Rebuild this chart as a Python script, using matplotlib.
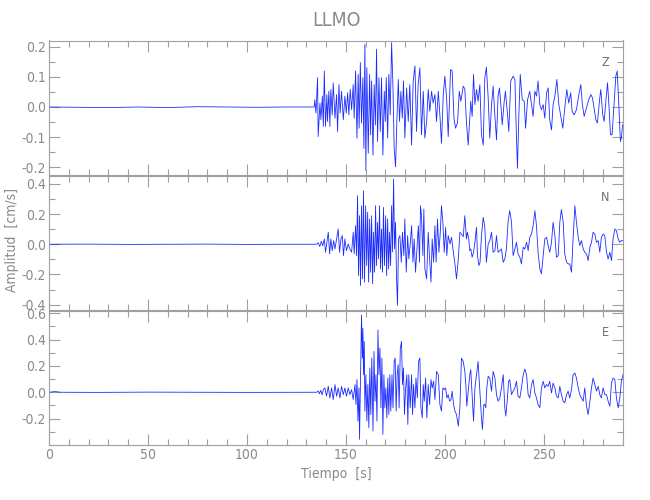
import numpy as np
import matplotlib
matplotlib.use("Agg")
import matplotlib.pyplot as plt
from matplotlib import font_manager
from matplotlib.ticker import MultipleLocator, FormatStrFormatter

# samples: (time [s], velocity [cm/s])
z_samples = [
    (0, 0.0), (15, -0.001), (30, -0.002), (45, 0.0), (60, -0.002), (75, 0.001),
    (90, 0.0), (105, -0.001), (120, 0.0), (134.0, 0.0),
    (134.3, 0.024), (134.9, -0.020), (135.7, 0.097), (136.0, -0.098), (136.9, 0.013),
    (137.4, -0.042), (138.1, 0.036), (138.6, -0.064), (139.1, 0.119), (139.7, -0.064),
    (140.4, 0.041), (140.7, -0.048), (141.4, 0.052), (141.9, -0.064), (142.4, 0.058),
    (143.1, -0.026), (143.6, 0.080), (144.5, -0.037), (145.3, 0.041), (145.8, -0.081),
    (146.5, 0.074), (147.1, -0.020), (147.8, 0.052), (148.7, -0.042), (149.5, 0.036),
    (150.2, -0.020), (150.9, 0.047), (151.5, -0.026), (152.2, 0.058), (152.9, -0.009),
    (153.7, 0.074), (154.2, -0.037), (154.9, 0.119), (155.6, -0.103), (156.2, 0.108),
    (156.7, -0.070), (157.3, 0.147), (157.9, -0.053), (158.6, 0.097), (159.1, -0.137),
    (159.6, 0.208), (160.1, -0.209), (160.6, 0.130), (161.3, -0.153), (162.0, 0.108),
    (162.5, -0.092), (163.0, 0.086), (163.7, -0.159), (164.3, 0.074), (164.9, -0.060),
    (165.5, 0.191), (166.0, -0.114), (166.7, 0.097), (167.4, -0.081), (168.0, 0.097),
    (168.7, -0.159), (169.4, 0.052), (169.9, -0.048), (170.4, 0.097), (171.1, -0.103),
    (171.7, 0.108), (172.4, -0.026), (173.1, 0.213), (173.8, 0.063), (174.4, -0.137),
    (175.1, -0.198), (175.8, -0.037), (176.5, 0.091), (177.1, -0.048), (177.8, 0.052),
    (178.5, -0.037), (179.1, 0.086), (179.8, -0.103), (180.7, 0.063), (181.5, -0.048),
    (182.3, 0.074), (183.2, -0.126), (184.0, 0.086), (184.9, 0.136), (185.7, -0.081),
    (186.5, 0.074), (187.4, 0.130), (188.2, -0.092), (189.1, 0.052), (189.9, -0.103),
    (190.8, -0.048), (191.6, 0.058), (192.4, -0.014), (193.3, 0.052), (194.1, 0.013),
    (195.0, 0.041), (195.8, -0.048), (196.7, 0.052), (197.5, -0.026), (198.3, -0.120),
    (199.2, 0.041), (200.0, 0.102), (200.9, 0.030), (201.7, -0.098), (202.9, 0.124),
    (203.7, 0.119), (204.6, -0.037), (205.4, -0.070), (206.4, -0.053), (207.3, 0.052),
    (208.1, 0.019), (209.3, 0.069), (210.1, 0.060),
    (210.9, -0.048), (211.8, -0.126), (213.1, 0.019), (213.8, -0.031), (214.5, 0.108),
    (215.2, 0.008), (216.0, 0.058), (216.8, 0.019), (217.7, 0.074), (218.5, -0.092),
    (219.4, -0.126), (220.2, 0.097), (221.0, 0.132), (221.9, 0.030), (222.7, -0.103),
    (223.6, 0.008), (224.4, 0.069), (225.3, -0.031), (226.1, -0.109), (226.9, 0.036),
    (227.6, 0.063), (228.3, 0.008), (229.0, -0.059), (230.0, 0.019), (230.6, 0.052),
    (231.7, -0.026), (232.3, -0.081), (233.3, 0.086), (234.5, 0.102), (235.4, 0.091),
    (236.2, -0.103), (236.7, -0.203), (237.4, -0.026), (238.1, 0.108), (239.1, 0.024),
    (240.1, 0.019), (240.8, -0.070), (241.8, 0.024), (242.9, 0.052), (243.8, 0.008),
    (244.6, -0.031), (245.5, 0.052), (246.3, 0.036), (247.1, 0.086), (248.0, 0.008),
    (248.8, -0.009), (249.7, 0.008), (250.5, -0.037), (251.4, 0.047), (252.2, 0.063),
    (253.0, -0.042), (253.9, -0.076), (254.7, 0.008), (255.6, 0.036), (256.6, 0.091),
    (257.6, 0.008), (258.6, -0.031), (259.6, -0.070), (260.6, -0.003), (261.6, 0.058),
    (262.6, 0.013), (263.6, 0.047), (264.3, -0.014), (265.3, -0.026), (266.5, -0.009),
    (267.7, 0.041), (268.7, 0.074), (269.5, 0.008), (270.4, -0.031), (271.6, -0.003),
    (272.7, 0.024), (273.8, 0.041), (274.6, 0.030), (275.4, -0.003), (276.3, -0.042),
    (277.1, -0.053), (278.1, 0.019), (278.8, 0.058), (279.8, -0.026), (280.5, -0.048),
    (281.5, 0.030), (282.2, 0.080), (282.8, 0.019), (283.7, -0.092), (284.5, -0.092),
    (285.5, 0.008), (286.4, 0.102), (287.1, 0.119), (287.9, 0.008), (288.7, -0.114),
    (289.2, -0.103), (289.8, -0.059),
]

n_samples = [
    (0, 0.0), (20, 0.001), (40, -0.001), (60, 0.0), (80, 0.001), (100, -0.001),
    (120, 0.0), (135.2, 0.0),
    (136.0, 0.010), (136.8, -0.015), (137.6, 0.020), (138.3, -0.010),
    (139.1, 0.035), (139.7, -0.053), (141.1, 0.079), (141.8, -0.064), (142.4, 0.035),
    (143.1, -0.042), (143.8, 0.024), (144.5, -0.031), (145.3, 0.035), (146.1, 0.101),
    (146.8, -0.053), (147.5, 0.035), (148.2, 0.057), (148.8, -0.075), (149.5, 0.035),
    (150.3, -0.042), (151.2, 0.002), (152.0, -0.031), (152.9, -0.053), (153.7, 0.079),
    (154.2, -0.064), (154.9, 0.123), (155.4, -0.075), (155.9, 0.321), (156.4, -0.207),
    (156.9, 0.189), (157.4, -0.273), (157.9, 0.255), (158.4, -0.229), (158.9, 0.354),
    (159.4, -0.251), (160.0, 0.255), (160.5, -0.141), (161.0, 0.211), (161.5, -0.251),
    (162.0, 0.167), (162.5, -0.185), (163.0, 0.189), (163.5, -0.262), (164.0, 0.079),
    (164.5, -0.185), (165.0, 0.255), (165.5, -0.141), (166.0, 0.145), (166.5, -0.097),
    (167.0, 0.255), (167.5, -0.163), (168.0, 0.101), (168.5, -0.185), (169.0, 0.244),
    (169.5, -0.141), (170.1, 0.189), (170.6, -0.207), (171.1, 0.167), (171.6, -0.163),
    (172.1, 0.079), (172.6, -0.141), (173.1, 0.255), (173.6, -0.050), (174.1, 0.431),
    (174.6, -0.031), (175.1, 0.145), (175.6, -0.229), (176.1, -0.404), (176.6, 0.035),
    (177.3, 0.057), (178.0, -0.119), (178.6, 0.079), (179.3, -0.075), (179.8, 0.167),
    (180.5, -0.185), (181.2, 0.057), (181.8, -0.097), (182.5, 0.002), (183.2, 0.123),
    (183.9, -0.119), (184.5, 0.035), (185.2, -0.185), (185.9, -0.031), (186.6, 0.123),
    (187.2, -0.119), (187.7, 0.255), (188.2, 0.189), (188.9, -0.075), (189.4, 0.233),
    (189.9, -0.163), (190.8, -0.229), (191.6, 0.079), (192.3, -0.097), (193.0, -0.251),
    (193.6, 0.035), (194.3, -0.119), (195.0, 0.123), (195.6, -0.119), (196.3, 0.167),
    (197.0, -0.053), (197.7, 0.079), (198.3, 0.255), (199.0, 0.145), (199.7, -0.053),
    (200.4, 0.112), (201.0, -0.075), (201.7, 0.057), (202.6, 0.002), (203.4, 0.046),
    (204.2, -0.042), (205.1, -0.130), (205.9, -0.229), (206.8, -0.097), (207.6, 0.079),
    (208.4, 0.068), (209.3, 0.050), (210.1, 0.189),
    (210.9, 0.035), (211.4, 0.079), (212.1, 0.035), (212.6, -0.042), (213.1, -0.031),
    (213.8, -0.086), (214.5, -0.053), (215.2, 0.013), (216.0, 0.112), (216.5, -0.075),
    (217.2, -0.141), (217.8, -0.119), (218.5, 0.057), (219.4, 0.178), (220.2, 0.112),
    (221.0, -0.119), (221.9, 0.002), (222.7, 0.024), (223.6, 0.079), (224.4, -0.053),
    (225.3, -0.042), (226.1, 0.057), (226.9, -0.053), (227.8, -0.042), (228.6, -0.031),
    (229.5, -0.119), (230.3, -0.097), (231.1, -0.031), (232.0, 0.156), (232.8, 0.222),
    (233.7, 0.145), (234.5, -0.075), (235.4, -0.031), (236.2, 0.013), (237.0, -0.064),
    (237.9, -0.086), (238.7, -0.130), (239.6, -0.020), (240.4, -0.031), (241.3, 0.013),
    (242.1, -0.042), (242.9, 0.046), (243.8, 0.068), (244.6, 0.123), (245.5, 0.222),
    (246.3, 0.123), (247.1, -0.053), (248.0, -0.163), (248.8, -0.196), (249.7, -0.075),
    (250.5, 0.035), (251.4, 0.046), (252.2, -0.009), (253.0, -0.053), (253.9, 0.013),
    (254.7, 0.145), (255.6, 0.057), (256.4, -0.086), (257.3, -0.075), (258.1, 0.145),
    (258.9, 0.229), (259.8, 0.145), (260.6, -0.064), (261.5, -0.119), (262.3, -0.130),
    (263.1, -0.130), (264.0, -0.185), (264.8, 0.035), (265.7, 0.255), (266.5, 0.145),
    (267.4, 0.046), (268.2, -0.009), (269.0, 0.024), (269.9, -0.031), (270.7, -0.053),
    (271.6, -0.064), (272.4, -0.108), (273.3, -0.020), (274.1, 0.013), (274.9, 0.079),
    (275.8, 0.068), (276.6, 0.013), (277.5, 0.024), (278.3, -0.053), (279.1, 0.046),
    (280.0, 0.068), (280.8, 0.057), (281.7, -0.053), (282.5, -0.097), (283.4, -0.053),
    (284.2, -0.108), (285.0, 0.035), (285.9, 0.101), (286.7, 0.090), (287.6, 0.035),
    (288.4, 0.013), (289.2, 0.024), (290.0, 0.024),
]

e_samples = [
    (0, 0.0), (3, 0.005), (6, 0.0), (25, -0.001), (50, 0.001), (75, 0.0),
    (100, -0.001), (120, 0.0), (135.2, 0.0),
    (136.0, 0.010), (136.6, -0.012), (137.3, 0.015), (138.0, -0.020), (138.6, 0.020),
    (139.4, 0.033), (140.2, -0.030), (141.1, 0.045), (141.9, -0.043), (142.8, 0.033),
    (143.6, -0.055), (144.5, 0.058), (145.3, -0.030), (146.1, 0.033), (147.0, -0.043),
    (147.8, 0.045), (148.7, -0.018), (149.5, 0.033), (150.3, -0.030), (151.2, 0.033),
    (152.0, -0.018), (152.9, 0.020), (153.7, -0.055), (154.6, 0.058), (155.1, -0.093),
    (155.6, 0.096), (156.1, -0.219), (156.6, 0.033), (156.9, -0.357), (157.4, 0.133),
    (157.9, 0.586), (158.3, 0.259), (158.6, 0.486), (158.9, 0.133), (159.3, 0.385),
    (159.6, -0.143), (160.1, 0.133), (160.6, -0.219), (161.1, 0.058), (161.6, -0.269),
    (162.1, 0.184), (162.6, -0.169), (163.1, 0.259), (163.7, -0.294), (164.2, 0.309),
    (164.7, -0.068), (165.2, 0.133), (165.7, -0.219), (166.2, 0.473), (166.7, 0.133),
    (167.2, 0.335), (167.7, -0.118), (168.2, 0.259), (168.7, -0.319), (169.2, 0.133),
    (169.7, -0.118), (170.2, 0.033), (170.7, -0.194), (171.2, 0.108), (171.7, -0.169),
    (172.2, 0.133), (172.7, -0.143), (173.3, 0.133), (173.8, -0.118), (174.4, 0.234),
    (174.9, 0.259), (175.4, -0.143), (175.9, 0.133), (176.4, 0.209), (176.9, -0.118),
    (177.5, 0.335), (178.1, 0.385), (178.6, 0.058), (179.1, 0.184), (179.6, -0.169),
    (180.2, 0.033), (180.8, 0.133), (181.3, -0.244), (181.8, 0.133), (182.5, -0.118),
    (183.2, 0.133), (183.7, -0.169), (184.2, 0.058), (184.9, -0.118), (185.4, 0.108),
    (186.1, -0.043), (186.7, 0.234), (187.4, 0.259), (187.9, -0.118), (188.6, -0.194),
    (189.1, 0.058), (189.6, -0.068), (190.3, 0.108), (190.9, -0.194), (191.6, 0.058),
    (192.3, -0.093), (193.0, 0.096), (193.6, 0.033), (194.3, 0.083), (195.0, -0.055),
    (195.8, 0.158), (196.7, 0.133), (197.5, -0.093), (198.3, -0.143), (199.0, 0.033),
    (199.7, 0.020), (200.4, 0.033), (201.0, -0.043), (201.7, -0.018), (202.4, -0.068),
    (203.1, -0.055), (203.7, 0.008), (204.4, -0.093), (205.1, -0.143), (205.9, -0.169),
    (206.8, -0.257), (207.6, -0.118), (208.4, 0.259), (209.3, 0.234), (210.1, 0.158),
    (210.6, 0.058), (211.1, -0.106), (211.8, 0.008), (212.6, 0.133), (213.1, 0.171),
    (213.8, -0.018), (214.5, -0.219), (215.2, 0.033), (216.0, 0.133), (216.8, 0.234),
    (217.7, 0.008), (218.5, -0.194), (219.0, -0.282), (219.7, -0.093), (220.2, -0.093),
    (220.7, -0.118), (221.2, 0.033), (221.9, 0.121), (222.7, 0.108), (223.6, 0.008),
    (224.4, 0.158), (225.3, 0.108), (226.1, -0.018), (226.9, -0.068), (227.8, -0.043),
    (228.6, 0.033), (229.5, 0.133), (230.3, -0.118), (230.8, -0.181), (231.5, -0.068),
    (232.2, 0.083), (232.8, 0.096), (233.7, -0.018), (234.5, 0.008), (235.4, 0.033),
    (236.2, 0.083), (237.0, -0.030), (237.9, -0.043), (238.7, 0.033), (239.6, 0.133),
    (240.4, 0.176), (241.3, 0.133), (242.1, -0.018), (242.9, -0.043), (243.8, 0.058),
    (244.6, 0.096), (245.5, -0.005), (246.3, -0.043), (247.1, -0.093), (248.0, -0.118),
    (248.8, 0.033), (249.7, 0.083), (250.5, 0.033), (251.4, 0.058), (252.2, 0.045),
    (253.0, 0.083), (253.9, -0.005), (254.7, 0.070), (255.6, 0.033), (256.4, -0.030),
    (257.3, -0.043), (258.1, 0.045), (258.9, -0.018), (259.8, -0.068), (260.6, -0.080),
    (261.5, -0.018), (262.3, 0.008), (263.1, -0.043), (264.0, 0.020), (264.8, 0.133),
    (265.7, 0.146), (266.5, 0.108), (267.4, 0.033), (268.2, -0.018), (269.0, -0.043),
    (269.9, -0.068), (270.7, 0.033), (271.6, -0.106), (272.4, -0.169), (273.3, -0.068),
    (274.1, 0.033), (274.9, 0.108), (275.8, 0.058), (276.6, 0.008), (277.5, 0.045),
    (278.3, -0.018), (279.1, -0.043), (280.0, 0.033), (280.8, -0.018), (281.7, -0.018),
    (282.5, -0.068), (283.4, -0.106), (284.2, 0.070), (285.0, 0.108), (285.9, 0.096),
    (286.7, -0.043), (287.6, -0.118), (288.4, -0.043), (289.2, 0.083), (290.0, 0.133),
]

components = ["Z", "N", "E"]
traces = [z_samples, n_samples, e_samples]
y_limits = [(-0.225, 0.22), (-0.435, 0.455), (-0.4, 0.62)]
y_labels = [[-0.2, -0.1, 0.0, 0.1, 0.2],
            [-0.4, -0.2, 0.0, 0.2, 0.4],
            [-0.2, 0.0, 0.2, 0.4, 0.6]]
y_minor = [0.05, 0.1, 0.1]

# narrow, light face to get close to the old IDL vector font
names = {f.name for f in font_manager.fontManager.ttflist}
if "Liberation Sans Narrow" in names:
    FONT = dict(family="Liberation Sans Narrow")
else:
    FONT = dict(family="DejaVu Sans", stretch="condensed")
plt.rcParams["font.family"] = FONT["family"]
if "stretch" in FONT:
    plt.rcParams["font.stretch"] = FONT["stretch"]
GREY = "#8a8a8a"
FRAME = "#a0a0a0"

fig = plt.figure(figsize=(6.5, 5), dpi=100)
left, width, height = 0.0754, 0.883, 0.269
bottoms = [0.65, 0.38, 0.11]

for i, (comp, samples) in enumerate(zip(components, traces)):
    ax = fig.add_axes([left, bottoms[i], width, height])
    t, amp = np.array(samples).T
    ax.plot(t, amp, color="#1c2cff", lw=0.6)
    ax.set_xlim(0, 290)
    ax.set_ylim(*y_limits[i])
    ax.xaxis.set_major_locator(MultipleLocator(50))
    ax.xaxis.set_minor_locator(MultipleLocator(10))
    ax.set_yticks(y_labels[i])
    ax.yaxis.set_minor_locator(MultipleLocator(y_minor[i]))
    ax.yaxis.set_major_formatter(FormatStrFormatter("%.1f"))
    ax.tick_params(which="both", direction="in", top=True, right=True,
                   color=FRAME, labelcolor=GREY, labelsize=10, width=0.8)
    ax.tick_params(which="major", length=8, pad=2)
    ax.tick_params(which="minor", length=4)
    for sp in ax.spines.values():
        sp.set_color(FRAME)
        sp.set_linewidth(0.8)
    if i < 2:
        ax.tick_params(labelbottom=False)
    else:
        ax.set_xlabel("Tiempo  [s]", color=GREY, fontsize=10, labelpad=4)
    ax.text(0.969, 0.84, comp, transform=ax.transAxes, color="#707070",
            fontsize=9, ha="center", va="center")

fig.text(0.517, 0.958, "LLMO", color=GREY, fontsize=14, ha="center", va="center")
fig.text(0.019, 0.52, "Amplitud  [cm/s]", color=GREY, fontsize=10,
         rotation=90, ha="center", va="center")

fig.savefig("out.png", dpi=100)
